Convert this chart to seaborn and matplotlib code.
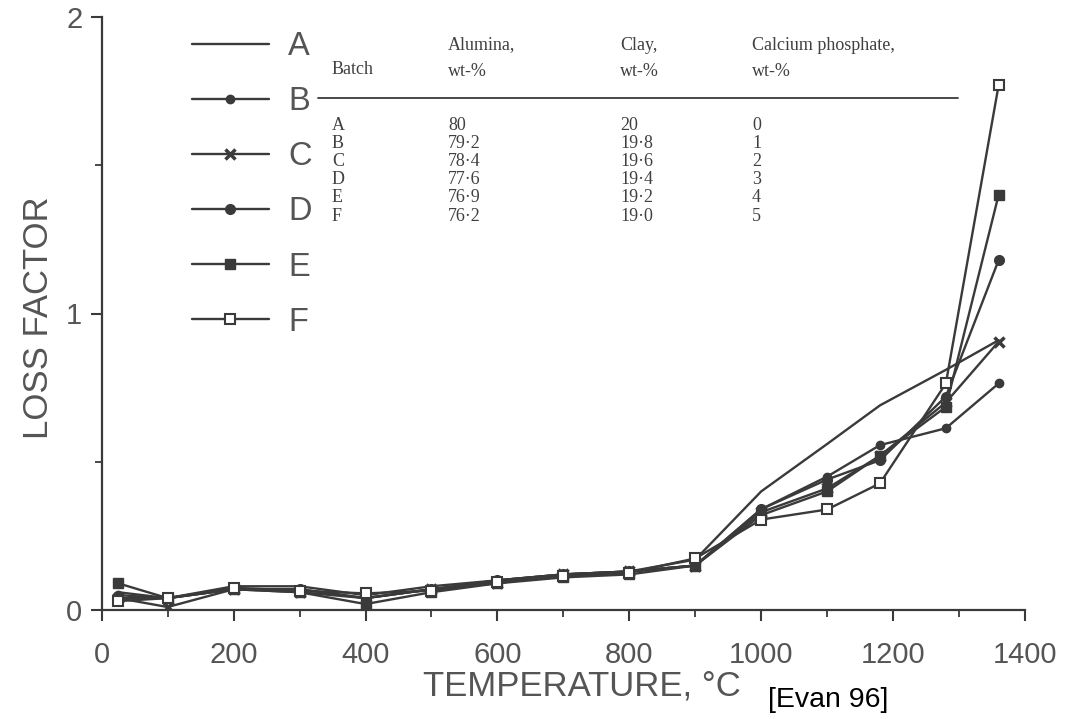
import matplotlib
matplotlib.use("Agg")
import matplotlib.pyplot as plt
import seaborn as sns
from matplotlib.lines import Line2D
from matplotlib.ticker import MultipleLocator

# ---------------- data ----------------
temperature = [25, 100, 200, 300, 400, 500, 600, 700, 800, 900, 1000, 1100, 1180, 1280, 1360]
loss_A = [0.06, 0.04, 0.08, 0.08, 0.05, 0.08, 0.10, 0.12, 0.13, 0.17, 0.40, 0.56, 0.69, 0.81, 0.91]
loss_B = [0.05, 0.04, 0.07, 0.07, 0.04, 0.07, 0.10, 0.12, 0.13, 0.15, 0.34, 0.45, 0.556, 0.613, 0.764]
loss_C = [0.04, 0.01, 0.07, 0.06, 0.04, 0.07, 0.09, 0.12, 0.13, 0.15, 0.33, 0.41, 0.52, 0.70, 0.905]
loss_D = [0.04, 0.04, 0.07, 0.07, 0.04, 0.07, 0.10, 0.12, 0.13, 0.15, 0.34, 0.44, 0.505, 0.72, 1.18]
loss_E = [0.09, 0.04, 0.07, 0.06, 0.02, 0.06, 0.09, 0.11, 0.12, 0.15, 0.32, 0.40, 0.52, 0.685, 1.40]
loss_F = [0.03, 0.04, 0.075, 0.065, 0.056, 0.065, 0.095, 0.114, 0.126, 0.174, 0.305, 0.339, 0.427, 0.764, 1.77]

batches = ["A", "B", "C", "D", "E", "F"]
series = [loss_A, loss_B, loss_C, loss_D, loss_E, loss_F]

table_header = ["Batch", "Alumina,\nwt-%", "Clay,\nwt-%", "Calcium phosphate,\nwt-%"]
alumina = ["80", "79·2", "78·4", "77·6", "76·9", "76·2"]
clay = ["20", "19·8", "19·6", "19·4", "19·2", "19·0"]
phosphate = ["0", "1", "2", "3", "4", "5"]

# ---------------- style ----------------
sns.set_style("ticks")
plt.rcParams["font.family"] = ["Liberation Sans", "DejaVu Sans"]

LINE = "#3a3a3a"
TXT = "#555555"
W, H = 1076, 719

def fx(px):
    return px / W

def fy(py):
    return 1 - py / H

fig = plt.figure(figsize=(W / 100, H / 100), dpi=100)
ax_l, ax_r, ax_b, ax_t = 101.7, 1025.0, 610.0, 17.0
ax = fig.add_axes([fx(ax_l), fy(ax_b), (ax_r - ax_l) / W, (ax_b - ax_t) / H])

styles = {
    "A": dict(marker=None),
    "B": dict(marker="o", ms=6, mfc=LINE, mec=LINE, mew=1),
    "C": dict(marker="x", ms=7, mfc=LINE, mec=LINE, mew=2.5),
    "D": dict(marker="o", ms=7, mfc=LINE, mec=LINE, mew=1),
    "E": dict(marker="s", ms=7, mfc=LINE, mec=LINE, mew=1),
    "F": dict(marker="s", ms=7, mfc="white", mec=LINE, mew=1.5),
}

for name, vals in zip(batches, series):
    sns.lineplot(x=temperature, y=vals, ax=ax, color=LINE, lw=1.7,
                 legend=False, sort=False, estimator=None, **styles[name])

ax.set_xlim(0, 1400)
ax.set_ylim(0, 2)
sns.despine(ax=ax)
for s in ["left", "bottom"]:
    ax.spines[s].set_linewidth(1.6)
    ax.spines[s].set_color(LINE)

ax.set_xticks(range(0, 1401, 200))
ax.xaxis.set_minor_locator(MultipleLocator(100))
ax.set_yticks([0, 1, 2])
ax.yaxis.set_minor_locator(MultipleLocator(0.5))
ax.tick_params(which="major", direction="out", length=8, width=1.5, color=LINE,
               labelsize=21, labelcolor=TXT)
ax.tick_params(axis="x", which="major", pad=14)
ax.tick_params(axis="y", which="major", pad=6)
ax.tick_params(which="minor", direction="out", length=5, width=1.3, color=LINE)

ax.set_xlabel("TEMPERATURE, °C", fontsize=25, color=TXT)
ax.xaxis.label.set_va("center")
ax.xaxis.set_label_coords((582 - ax_l) / (ax_r - ax_l), (ax_b - 686) / (ax_b - ax_t))
ax.set_ylabel("LOSS FACTOR", fontsize=25, color=TXT)
ax.yaxis.label.set_va("center")
ax.yaxis.set_label_coords((38 - ax_l) / (ax_r - ax_l), (ax_b - 318) / (ax_b - ax_t))

# legend
handles = []
for name in batches:
    st = styles[name]
    handles.append(Line2D([], [], color=LINE, lw=1.7, **st))
ax.legend(handles, batches, loc="upper left", bbox_to_anchor=(fx(192), fy(31)),
          bbox_transform=fig.transFigure, frameon=False, fontsize=23.5,
          handlelength=2.35, handletextpad=0.6, labelspacing=0.74,
          borderpad=0, borderaxespad=0, labelcolor=TXT)

# composition table
serif = ["Liberation Serif", "DejaVu Serif"]
col_x = [332, 448, 620, 752]
tsize = 13
TCOL = "#404040"
fig.text(fx(col_x[0]), fy(70), table_header[0], family=serif, fontsize=tsize,
         color=TCOL, ha="left", va="center")
for cx, hdr in zip(col_x[1:], table_header[1:]):
    l1, l2 = hdr.split("\n")
    fig.text(fx(cx), fy(45), l1, family=serif, fontsize=tsize, color=TCOL, ha="left", va="center")
    fig.text(fx(cx), fy(72), l2, family=serif, fontsize=tsize, color=TCOL, ha="left", va="center")
fig.add_artist(Line2D([fx(318), fx(958)], [fy(98), fy(98)], color=LINE, lw=1.3,
                      transform=fig.transFigure))
row_y = [126, 144, 162, 180, 198, 216]
for i, ry in enumerate(row_y):
    for cx, txt in zip(col_x, [batches[i], alumina[i], clay[i], phosphate[i]]):
        fig.text(fx(cx), fy(ry), txt, family=serif, fontsize=tsize, color=TCOL,
                 ha="left", va="center")

fig.text(fx(768), fy(700), "[Evan 96]", fontsize=20.5, color="black", ha="left", va="center")

fig.savefig("out.png", dpi=100, facecolor="white")
